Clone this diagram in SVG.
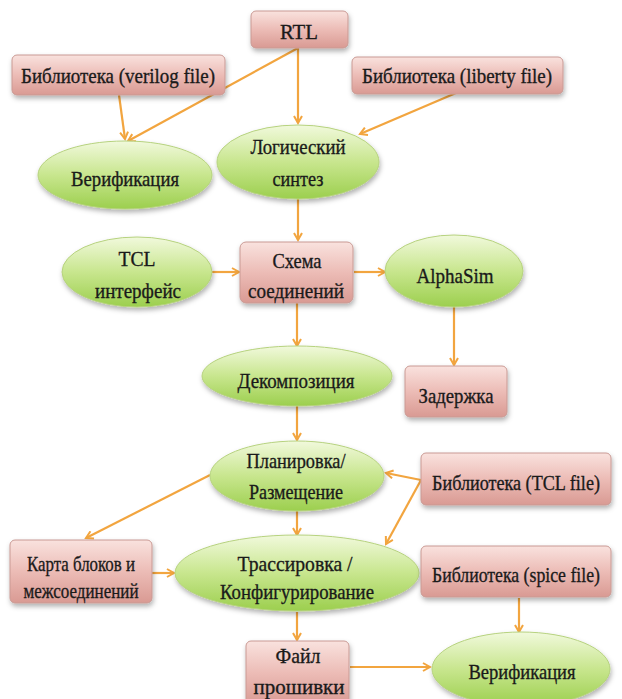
<svg xmlns="http://www.w3.org/2000/svg" width="622" height="699" viewBox="0 0 622 699">
<defs>
<linearGradient id="gr" x1="0" y1="0" x2="0" y2="1">
<stop offset="0" stop-color="#f9e2de"/>
<stop offset="0.5" stop-color="#ecbcb6"/>
<stop offset="1" stop-color="#d99a93"/>
</linearGradient>
<linearGradient id="gg" x1="0" y1="0" x2="0" y2="1">
<stop offset="0" stop-color="#f1f9dc"/>
<stop offset="0.5" stop-color="#c8e68e"/>
<stop offset="1" stop-color="#9ccf4e"/>
</linearGradient>
<filter id="sh" x="-10%" y="-10%" width="125%" height="140%">
<feDropShadow dx="1" dy="3" stdDeviation="2.5" flood-color="#000" flood-opacity="0.3"/>
</filter>
<marker id="ah" markerWidth="10" markerHeight="10" refX="8" refY="5" orient="auto" markerUnits="userSpaceOnUse">
<path d="M1,1 L8,5 L1,9" fill="none" stroke="#f2a53f" stroke-width="2"/>
</marker>
<style>
.r{fill:url(#gr);stroke:#c99a94;stroke-width:1;filter:url(#sh)}
.e{fill:url(#gg);stroke:#b6d27e;stroke-width:1;filter:url(#sh)}
.t{font-family:"Liberation Serif","Times New Roman",serif;font-size:22px;fill:#1a1a1a;text-anchor:middle;stroke:#1a1a1a;stroke-width:0.35}
.c line{stroke:#f2a53f;stroke-width:2.2;fill:none}
</style>
</defs>
<rect width="622" height="699" fill="#ffffff"/>

<g class="c" id="connectors">
<line x1="298" y1="48" x2="298" y2="123" marker-end="url(#ah)"/>
<line x1="298" y1="48" x2="128" y2="141" marker-end="url(#ah)"/>
<line x1="119" y1="95" x2="125" y2="139" marker-end="url(#ah)"/>
<line x1="456" y1="93" x2="360" y2="134" marker-end="url(#ah)"/>
<line x1="298" y1="199" x2="298" y2="240" marker-end="url(#ah)"/>
<line x1="212" y1="272" x2="239" y2="272" marker-end="url(#ah)"/>
<line x1="354" y1="272" x2="385" y2="272" marker-end="url(#ah)"/>
<line x1="297" y1="303" x2="297" y2="346" marker-end="url(#ah)"/>
<line x1="454" y1="307" x2="454" y2="365" marker-end="url(#ah)"/>
<line x1="297" y1="406" x2="297" y2="440" marker-end="url(#ah)"/>
<line x1="210" y1="475" x2="86" y2="538" marker-end="url(#ah)"/>
<line x1="421" y1="480" x2="386" y2="473" marker-end="url(#ah)"/>
<line x1="421" y1="480" x2="386" y2="544" marker-end="url(#ah)"/>
<line x1="297" y1="510" x2="297" y2="535" marker-end="url(#ah)"/>
<line x1="152" y1="573" x2="174" y2="573" marker-end="url(#ah)"/>
<line x1="297" y1="612" x2="297" y2="640" marker-end="url(#ah)"/>
<line x1="519" y1="598" x2="519" y2="632" marker-end="url(#ah)"/>
<line x1="350" y1="667" x2="430" y2="667" marker-end="url(#ah)"/>
</g>

<g id="rtl"><rect class="r" x="251" y="11" width="97" height="37" rx="5"/><text class="t" x="299" y="39" font-size="23" textLength="38" lengthAdjust="spacingAndGlyphs">RTL</text></g>
<g id="lib-verilog"><rect class="r" x="12" y="55" width="213" height="40" rx="5"/><text class="t" x="118" y="83" textLength="194" lengthAdjust="spacingAndGlyphs">Библиотека (verilog file)</text></g>
<g id="lib-liberty"><rect class="r" x="352" y="57" width="211" height="37" rx="5"/><text class="t" x="457" y="83" textLength="190" lengthAdjust="spacingAndGlyphs">Библиотека (liberty file)</text></g>
<g id="verif1"><ellipse class="e" cx="125" cy="175" rx="87" ry="34"/><text class="t" x="125" y="186" textLength="108" lengthAdjust="spacingAndGlyphs">Верификация</text></g>
<g id="synth"><ellipse class="e" cx="298" cy="162" rx="81" ry="37"/><text class="t" x="298" y="154" textLength="95" lengthAdjust="spacingAndGlyphs">Логический</text><text class="t" x="298" y="186" textLength="51" lengthAdjust="spacingAndGlyphs">синтез</text></g>
<g id="tcl-if"><ellipse class="e" cx="137" cy="272" rx="75" ry="35"/><text class="t" x="137" y="266" textLength="37" lengthAdjust="spacingAndGlyphs">TCL</text><text class="t" x="138" y="298" textLength="86" lengthAdjust="spacingAndGlyphs">интерфейс</text></g>
<g id="netlist"><rect class="r" x="240" y="242" width="113" height="61" rx="6"/><text class="t" x="297" y="268" textLength="49" lengthAdjust="spacingAndGlyphs">Схема</text><text class="t" x="296" y="298" textLength="96" lengthAdjust="spacingAndGlyphs">соединений</text></g>
<g id="alphasim"><ellipse class="e" cx="454" cy="271" rx="69" ry="36"/><text class="t" x="455" y="283" textLength="77" lengthAdjust="spacingAndGlyphs">AlphaSim</text></g>
<g id="decomp"><ellipse class="e" cx="297" cy="376" rx="95" ry="30"/><text class="t" x="296" y="388" textLength="117" lengthAdjust="spacingAndGlyphs">Декомпозиция</text></g>
<g id="delay"><rect class="r" x="405" y="366" width="102" height="51" rx="5"/><text class="t" x="456" y="403" textLength="75" lengthAdjust="spacingAndGlyphs">Задержка</text></g>
<g id="place"><ellipse class="e" cx="297" cy="476" rx="87" ry="35"/><text class="t" x="296" y="468" textLength="99" lengthAdjust="spacingAndGlyphs">Планировка/</text><text class="t" x="296" y="499" textLength="94" lengthAdjust="spacingAndGlyphs">Размещение</text></g>
<g id="lib-tcl"><rect class="r" x="421" y="453" width="190" height="52" rx="5"/><text class="t" x="516" y="490" font-size="20" textLength="168" lengthAdjust="spacingAndGlyphs">Библиотека (TCL file)</text></g>
<g id="map"><rect class="r" x="10" y="540" width="142" height="63" rx="5"/><text class="t" x="81" y="571" textLength="108" lengthAdjust="spacingAndGlyphs">Карта блоков и</text><text class="t" x="81" y="598" textLength="115" lengthAdjust="spacingAndGlyphs">межсоединений</text></g>
<g id="route"><ellipse class="e" cx="297" cy="573" rx="122" ry="38"/><text class="t" x="295" y="571" textLength="115" lengthAdjust="spacingAndGlyphs">Трассировка /</text><text class="t" x="297" y="599" textLength="154" lengthAdjust="spacingAndGlyphs">Конфигурирование</text></g>
<g id="lib-spice"><rect class="r" x="421" y="546" width="190" height="51" rx="5"/><text class="t" x="516" y="582" font-size="20" textLength="168" lengthAdjust="spacingAndGlyphs">Библиотека (spice file)</text></g>
<g id="firmware"><rect class="r" x="246" y="641" width="103" height="64" rx="5"/><text class="t" x="298" y="663" textLength="45" lengthAdjust="spacingAndGlyphs">Файл</text><text class="t" x="299" y="694" textLength="91" lengthAdjust="spacingAndGlyphs">прошивки</text></g>
<g id="verif2"><ellipse class="e" cx="521" cy="669" rx="89" ry="37"/><text class="t" x="522" y="679" textLength="107" lengthAdjust="spacingAndGlyphs">Верификация</text></g>
</svg>
